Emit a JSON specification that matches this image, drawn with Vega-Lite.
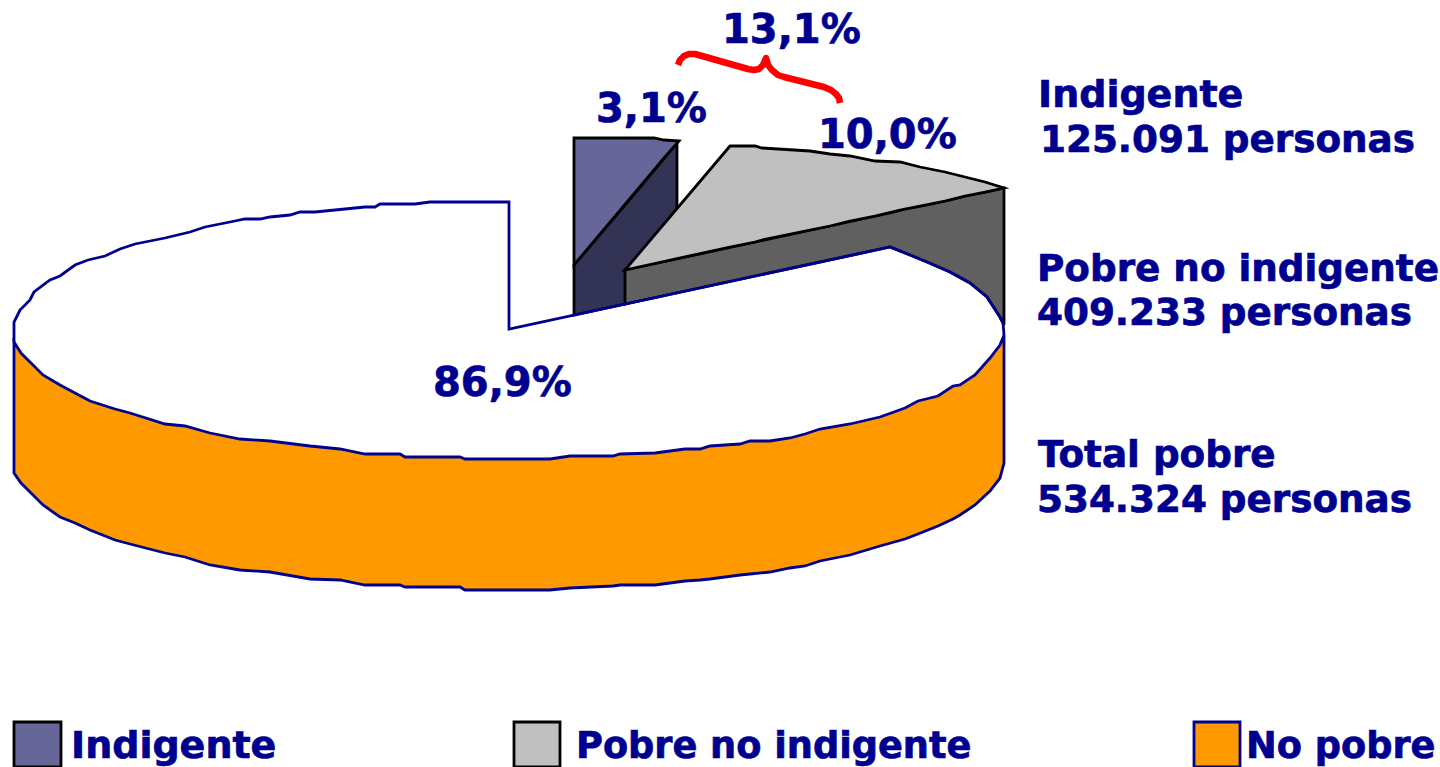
{"$schema":"https://vega.github.io/schema/vega-lite/v6.json","width":1440,"height":767,"padding":0,"autosize":{"type":"none"},"background":"white","view":{"stroke":null},
"datasets":{
"caras":[
{"s":"No pobre lado","x":14,"y":342,"y2":473},{"s":"No pobre lado","x":21,"y":353,"y2":483},{"s":"No pobre lado","x":43,"y":375,"y2":505},{"s":"No pobre lado","x":60,"y":385,"y2":517},{"s":"No pobre lado","x":75,"y":393,"y2":523},{"s":"No pobre lado","x":90,"y":401,"y2":530},{"s":"No pobre lado","x":115,"y":409,"y2":540},{"s":"No pobre lado","x":130,"y":413,"y2":544},{"s":"No pobre lado","x":165,"y":424,"y2":553},{"s":"No pobre lado","x":185,"y":426,"y2":557},{"s":"No pobre lado","x":210,"y":433,"y2":565},{"s":"No pobre lado","x":240,"y":439,"y2":570},{"s":"No pobre lado","x":270,"y":441,"y2":572},{"s":"No pobre lado","x":310,"y":446,"y2":579},{"s":"No pobre lado","x":340,"y":449,"y2":580},{"s":"No pobre lado","x":365,"y":454,"y2":585},{"s":"No pobre lado","x":400,"y":454,"y2":585},{"s":"No pobre lado","x":405,"y":457,"y2":587},{"s":"No pobre lado","x":460,"y":457,"y2":587},{"s":"No pobre lado","x":465,"y":459,"y2":590},{"s":"No pobre lado","x":550,"y":459,"y2":590},{"s":"No pobre lado","x":570,"y":456,"y2":588},{"s":"No pobre lado","x":613,"y":456,"y2":586},{"s":"No pobre lado","x":620,"y":454,"y2":585},{"s":"No pobre lado","x":655,"y":453,"y2":585},{"s":"No pobre lado","x":685,"y":449,"y2":581},{"s":"No pobre lado","x":700,"y":449,"y2":580},{"s":"No pobre lado","x":710,"y":446,"y2":579},{"s":"No pobre lado","x":740,"y":444,"y2":575},{"s":"No pobre lado","x":750,"y":441,"y2":574},{"s":"No pobre lado","x":770,"y":441,"y2":572},{"s":"No pobre lado","x":790,"y":438,"y2":568},{"s":"No pobre lado","x":805,"y":434,"y2":566},{"s":"No pobre lado","x":820,"y":429,"y2":561},{"s":"No pobre lado","x":850,"y":424,"y2":555},{"s":"No pobre lado","x":880,"y":417,"y2":546},{"s":"No pobre lado","x":905,"y":408,"y2":539},{"s":"No pobre lado","x":918,"y":401,"y2":534},{"s":"No pobre lado","x":938,"y":396,"y2":526},{"s":"No pobre lado","x":953,"y":386,"y2":519},{"s":"No pobre lado","x":960,"y":385,"y2":515},{"s":"No pobre lado","x":975,"y":375,"y2":505},{"s":"No pobre lado","x":990,"y":358,"y2":491},{"s":"No pobre lado","x":1000,"y":345,"y2":478},{"s":"No pobre lado","x":1004,"y":335,"y2":463},
{"s":"Indigente lado","x":574,"y":265,"y2":315},{"s":"Indigente lado","x":625,"y":205,"y2":304},{"s":"Indigente lado","x":677,"y":143,"y2":209},
{"s":"Indigente","x":574,"y":138,"y2":265},{"s":"Indigente","x":654,"y":138,"y2":170},{"s":"Indigente","x":664,"y":140,"y2":158},{"s":"Indigente","x":679,"y":141,"y2":141},
{"s":"Pobre lado","x":625,"y":270,"y2":304},{"s":"Pobre lado","x":890,"y":213,"y2":247},{"s":"Pobre lado","x":910,"y":208,"y2":255},{"s":"Pobre lado","x":927,"y":205,"y2":262},{"s":"Pobre lado","x":950,"y":200,"y2":272},{"s":"Pobre lado","x":970,"y":195,"y2":283},{"s":"Pobre lado","x":987,"y":192,"y2":297},{"s":"Pobre lado","x":1000,"y":189,"y2":317},{"s":"Pobre lado","x":1004,"y":188,"y2":325},
{"s":"Pobre","x":625,"y":270,"y2":270},{"s":"Pobre","x":730,"y":146,"y2":247},{"s":"Pobre","x":755,"y":146,"y2":242},{"s":"Pobre","x":762,"y":148,"y2":240},{"s":"Pobre","x":810,"y":151,"y2":230},{"s":"Pobre","x":830,"y":154,"y2":226},{"s":"Pobre","x":850,"y":156,"y2":221},{"s":"Pobre","x":875,"y":161,"y2":216},{"s":"Pobre","x":900,"y":162,"y2":210},{"s":"Pobre","x":920,"y":167,"y2":206},{"s":"Pobre","x":945,"y":172,"y2":201},{"s":"Pobre","x":965,"y":177,"y2":196},{"s":"Pobre","x":985,"y":182,"y2":192},{"s":"Pobre","x":1004,"y":188,"y2":188},
{"s":"Leyenda Indigente","x":14,"y":722,"y2":767},{"s":"Leyenda Indigente","x":61,"y":722,"y2":767},
{"s":"Leyenda Pobre","x":514,"y":722,"y2":767},{"s":"Leyenda Pobre","x":560,"y":722,"y2":767},
{"s":"Leyenda No pobre","x":1194,"y":722,"y2":767},{"s":"Leyenda No pobre","x":1240,"y":722,"y2":767}
],
"borde":[
{"o":1,"x":14,"y":342},{"o":2,"x":14,"y":322},{"o":3,"x":20,"y":310},{"o":4,"x":30,"y":300},{"o":5,"x":34,"y":292},{"o":6,"x":50,"y":280},{"o":7,"x":60,"y":276},{"o":8,"x":75,"y":265},{"o":9,"x":88,"y":260},{"o":10,"x":105,"y":256},{"o":11,"x":120,"y":249},{"o":12,"x":135,"y":244},{"o":13,"x":155,"y":240},{"o":14,"x":165,"y":238},{"o":15,"x":190,"y":232},{"o":16,"x":205,"y":227},{"o":17,"x":230,"y":222},{"o":18,"x":245,"y":219},{"o":19,"x":260,"y":219},{"o":20,"x":270,"y":217},{"o":21,"x":290,"y":215},{"o":22,"x":300,"y":212},{"o":23,"x":315,"y":212},{"o":24,"x":345,"y":209},{"o":25,"x":365,"y":207},{"o":26,"x":375,"y":207},{"o":27,"x":380,"y":204},{"o":28,"x":415,"y":204},{"o":29,"x":430,"y":202},{"o":30,"x":509,"y":202},
{"o":31,"x":509,"y":329},{"o":32,"x":890,"y":247},{"o":33,"x":910,"y":255},{"o":34,"x":927,"y":262},{"o":35,"x":950,"y":272},{"o":36,"x":970,"y":283},{"o":37,"x":987,"y":297},{"o":38,"x":1000,"y":317},{"o":39,"x":1003,"y":323},{"o":40,"x":1004,"y":335}
],
"llave":[
{"o":1,"x":678,"y":65},{"o":2,"x":680,"y":60},{"o":3,"x":684,"y":56},{"o":4,"x":689,"y":54},{"o":5,"x":695,"y":54},{"o":6,"x":748,"y":69},{"o":7,"x":754,"y":70},{"o":8,"x":759,"y":69},{"o":9,"x":763,"y":65},{"o":10,"x":766,"y":58},{"o":11,"x":768,"y":65},{"o":12,"x":772,"y":70},{"o":13,"x":778,"y":75},{"o":14,"x":784,"y":77},{"o":15,"x":824,"y":87},{"o":16,"x":831,"y":90},{"o":17,"x":836,"y":94},{"o":18,"x":839,"y":98},{"o":19,"x":840,"y":103}
],
"porcentajes":[{"t":"3,1%","x":596,"y":122},{"t":"13,1%","x":722,"y":43},{"t":"10,0%","x":818,"y":148},{"t":"86,9%","x":433,"y":396}],
"rotulos":[{"t":"125.091 personas","x":1040,"y":152},{"t":"Pobre no indigente","x":1037,"y":281},{"t":"409.233 personas","x":1037,"y":325},{"t":"Total pobre","x":1038,"y":467},{"t":"534.324 personas","x":1037,"y":512}],
"indigente":[{"t":"Indigente","x":1038,"y":107},{"t":"Indigente","x":71,"y":758}],
"leyenda":[{"t":"Pobre no indigente","x":576,"y":758},{"t":"No pobre","x":1246,"y":758}]
},
"encoding":{
"x":{"field":"x","type":"quantitative","scale":{"domain":[0,1440],"nice":false,"zero":false},"axis":null},
"y":{"field":"y","type":"quantitative","scale":{"domain":[767,0],"nice":false,"zero":false},"axis":null}},
"layer":[
{"data":{"name":"caras"},"mark":{"type":"area","strokeWidth":2.8,"strokeJoin":"miter","clip":true},
"encoding":{"y2":{"field":"y2"},
"fill":{"field":"s","type":"nominal","legend":null,"sort":null,"scale":{"domain":["No pobre lado","Indigente lado","Indigente","Pobre lado","Pobre","Leyenda Indigente","Leyenda Pobre","Leyenda No pobre"],"range":["#FF9900","#333355","#666699","#606060","#C0C0C0","#666699","#C0C0C0","#FF9900"]}},
"stroke":{"field":"s","type":"nominal","legend":null,"sort":null,"scale":{"domain":["No pobre lado","Indigente lado","Indigente","Pobre lado","Pobre","Leyenda Indigente","Leyenda Pobre","Leyenda No pobre"],"range":["#000090","#000000","#000000","#000000","#000000","#000000","#000000","#000090"]}}}},
{"data":{"name":"borde"},"mark":{"type":"line","color":"#000090","strokeWidth":2.8,"strokeJoin":"miter"},"encoding":{"order":{"field":"o","type":"quantitative"}}},
{"data":{"name":"llave"},"mark":{"type":"line","color":"#FF0000","strokeWidth":6.5,"interpolate":"linear","strokeCap":"butt","strokeJoin":"round"},"encoding":{"order":{"field":"o","type":"quantitative"}}},
{"data":{"name":"porcentajes"},"mark":{"type":"text","align":"left","baseline":"alphabetic","font":"DejaVu Sans","fontWeight":"bold","fontSize":40,"color":"#000090","stroke":"#000090","strokeWidth":0.7},"encoding":{"text":{"field":"t"}}},
{"data":{"name":"rotulos"},"mark":{"type":"text","align":"left","baseline":"alphabetic","font":"DejaVu Sans","fontWeight":"bold","fontSize":37.3,"color":"#000090","stroke":"#000090","strokeWidth":0.7},"encoding":{"text":{"field":"t"}}},
{"data":{"name":"indigente"},"mark":{"type":"text","align":"left","baseline":"alphabetic","font":"DejaVu Sans","fontWeight":"bold","fontSize":38,"color":"#000090","stroke":"#000090","strokeWidth":0.7},"encoding":{"text":{"field":"t"}}},
{"data":{"name":"leyenda"},"mark":{"type":"text","align":"left","baseline":"alphabetic","font":"DejaVu Sans","fontWeight":"bold","fontSize":36.7,"color":"#000090","stroke":"#000090","strokeWidth":0.7},"encoding":{"text":{"field":"t"}}}
]}
